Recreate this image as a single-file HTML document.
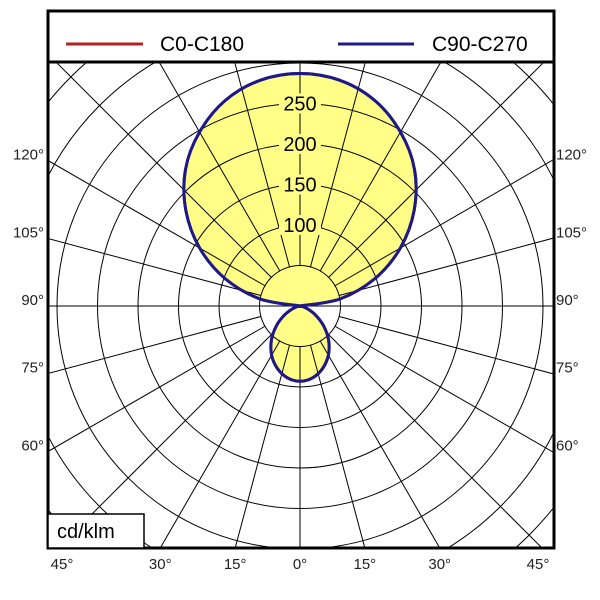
<!DOCTYPE html>
<html><head><meta charset="utf-8"><style>
html,body{margin:0;padding:0;background:#fff;width:600px;height:600px;overflow:hidden;}
svg{display:block;font-family:"Liberation Sans",Arial,sans-serif;}
</style></head><body>
<svg id="chart" width="600" height="600" viewBox="0 0 600 600">
<defs><clipPath id="plotclip"><rect x="48" y="62" width="506" height="486"/></clipPath></defs>
<rect x="0" y="0" width="600" height="600" fill="#fff"/>
<g id="plot" clip-path="url(#plotclip)"></g>
<g id="labels"></g>
<rect x="48" y="11" width="506" height="51" fill="none" stroke="#000" stroke-width="3"/>
<line x1="66" y1="44" x2="143" y2="44" stroke="#b22222" stroke-width="3"/>
<text x="160" y="51" font-size="21">C0-C180</text>
<line x1="338" y1="44" x2="414" y2="44" stroke="#1a1a8c" stroke-width="3"/>
<text x="432" y="51" font-size="21">C90-C270</text>
<rect x="48" y="62" width="506" height="486" fill="none" stroke="#000" stroke-width="3"/>
<rect x="48" y="514" width="96" height="34" fill="#fff" stroke="#000" stroke-width="1.5"/>
<text x="57" y="538" font-size="20">cd/klm</text>
</svg>
<script>
// data
const gammaAngles = [0,10,20,30,40,50,60,70,80,90,100,110,120,130,140,150,160,170,180];
const c0c180 = [93,90,82,70,55,38,22,10,3,0,50,98,143,184,220,248,270,283,287];
const c90c270 = [93,90,82,70,55,38,22,10,3,0,50,98,143,184,220,248,270,283,287];
const ringValues = [50,100,150,200,250,300,350,400];
const ringLabels = ["100","150","200","250"];
const sideAngleLabels = [60,75,90,105,120];
const bottomAngleLabels = [45,30,15,0,15,30,45];
const bottomAngleSigns = [-1,-1,-1,0,1,1,1];

const NS="http://www.w3.org/2000/svg";
const cx=300, cy=306, scale=0.81;
const rScale=v=>v*scale;
function pt(gamma,v,side){const a=gamma*Math.PI/180;const r=rScale(v);return [cx+side*r*Math.sin(a), cy+r*Math.cos(a)];}
const plot=document.getElementById('plot');
const labels=document.getElementById('labels');
function mk(tag,attrs,parent){const e=document.createElementNS(NS,tag);for(const k in attrs)e.setAttribute(k,attrs[k]);parent.appendChild(e);return e;}

function smooth(vals){
  const pts=[];
  for(let i=0;i<gammaAngles.length;i++)pts.push(pt(gammaAngles[i],vals[i],1));
  for(let i=gammaAngles.length-2;i>=1;i--)pts.push(pt(gammaAngles[i],vals[i],-1));
  const n=pts.length;let d='M'+pts[0][0].toFixed(1)+','+pts[0][1].toFixed(1);
  for(let i=0;i<n;i++){const p0=pts[(i-1+n)%n],p1=pts[i],p2=pts[(i+1)%n],p3=pts[(i+2)%n];
    const c1=[p1[0]+(p2[0]-p0[0])/6,p1[1]+(p2[1]-p0[1])/6],c2=[p2[0]-(p3[0]-p1[0])/6,p2[1]-(p3[1]-p1[1])/6];
    d+='C'+c1[0].toFixed(1)+','+c1[1].toFixed(1)+' '+c2[0].toFixed(1)+','+c2[1].toFixed(1)+' '+p2[0].toFixed(1)+','+p2[1].toFixed(1);}
  return d+'Z';
}
const fill=mk('path',{d:smooth(c90c270),fill:'#ffff88',stroke:'none'},plot);


ringValues.forEach(v=>{const c=mk('circle',{cx:cx,cy:cy,r:rScale(v),fill:'none',stroke:'#000','stroke-width':1},plot);

});
const r0=rScale(ringValues[0]);
for(let a=0;a<360;a+=15){const r=Math.PI*a/180;const start=(a%180===90)?0:r0;
const l=mk('line',{x1:cx+start*Math.sin(r),y1:cy+start*Math.cos(r),x2:cx+500*Math.sin(r),y2:cy+500*Math.cos(r),stroke:'#000','stroke-width':1},plot);

}
const red=mk('path',{d:smooth(c0c180),fill:'none',stroke:'#b22222','stroke-width':3},plot);


const blue=mk('path',{d:smooth(c90c270),fill:'none',stroke:'#1a1a8c','stroke-width':3},plot);


ringLabels.forEach(s=>{const y=cy-rScale(+s);
const bg=mk('rect',{x:cx-21,y:y-10,width:42,height:20,fill:'#ffff88'},plot);


const t=mk('text',{x:cx,y:y+7,'font-size':20,'text-anchor':'middle',fill:'#000'},plot);t.textContent=s;

});
sideAngleLabels.forEach(a=>{const y=cy+(a===90?0:252/Math.tan(a*Math.PI/180))-6;
const tl=mk('text',{x:44,y:y+5,'font-size':15,'text-anchor':'end',fill:'#222'},labels);tl.textContent=a+'°';


const tr=mk('text',{x:556,y:y+5,'font-size':15,'text-anchor':'start',fill:'#222'},labels);tr.textContent=a+'°';

});
bottomAngleLabels.forEach((a,i)=>{let x=cx+bottomAngleSigns[i]*242*Math.tan(a*Math.PI/180);
if(a===45)x+=bottomAngleSigns[i]*(-4);
const t=mk('text',{x:x,y:569,'font-size':15,'text-anchor':'middle',fill:'#222'},labels);t.textContent=a+'°';

});
</script>
</body></html>
